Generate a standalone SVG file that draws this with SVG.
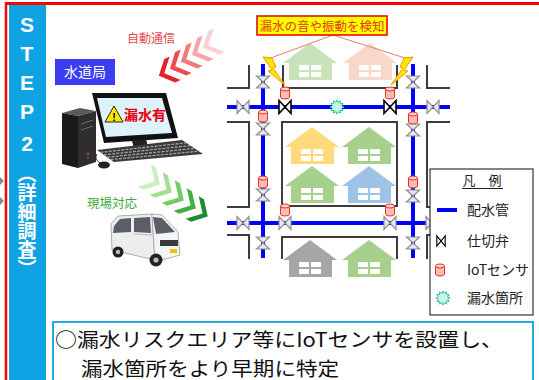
<svg xmlns="http://www.w3.org/2000/svg" xmlns:xlink="http://www.w3.org/1999/xlink" width="539" height="380" viewBox="0 0 539 380">
  <style>
    .jp { font-family: "Noto Sans CJK JP", "Noto Sans", sans-serif; }
    .pipe { stroke: #0000FF; stroke-width: 4; fill: none; }
    .blk { stroke: #3C3C3C; stroke-width: 2; fill: none; }
    .vg { fill: #E6EAF0; stroke: #8E8E8E; stroke-width: 1.2; }
    .vb { fill: #FFFFFF; stroke: #000000; stroke-width: 1.6; }
    .bolt { fill: #FFE600; stroke: #F39800; stroke-width: 1; }
    .callout { stroke: #F07878; stroke-width: 1; fill: none; }
    .leg { font-size: 14px; fill: #222; }
  </style>
  <defs>
    <path id="valveH" d="M-6,-6.5 L-6,6.5 L6,-6.5 L6,6.5 Z"/>
    <path id="valveV" d="M-6.5,-6 L6.5,-6 L-6.5,6 L6.5,6 Z"/>
    <g id="sensor">
      <path d="M-4.5,-4 V4 A4.5,2 0 0 0 4.5,4 V-4" fill="#F7BDB4" stroke="#E8302A" stroke-width="1"/>
      <ellipse cx="0" cy="-4" rx="4.5" ry="2" fill="#FAD3CC" stroke="#E8302A" stroke-width="1"/>
    </g>
    <polygon id="leak" fill="#C8F4E8" stroke="#2CC49A" stroke-width="1"
      points="7,0 4.64,1.24 6.06,3.5 3.39,3.39 3.5,6.06 1.24,4.64 0,7 -1.24,4.64 -3.5,6.06 -3.39,3.39 -6.06,3.5 -4.64,1.24 -7,0 -4.64,-1.24 -6.06,-3.5 -3.39,-3.39 -3.5,-6.06 -1.24,-4.64 0,-7 1.24,-4.64 3.5,-6.06 3.39,-3.39 6.06,-3.5 4.64,-1.24"/>
    <g id="house">
      <path d="M0,20 L27,0 L54,20 L49,20 L49,37 L6,37 L6,20 Z"/>
      <g fill="#FFFFFF">
        <rect x="16" y="22" width="10" height="5"/>
        <rect x="28" y="22" width="10" height="5"/>
        <rect x="16" y="29" width="10" height="5"/>
        <rect x="28" y="29" width="10" height="5"/>
      </g>
    </g>
    <polygon id="chevL" points="-9,0 3,-13 9,-13 -3,0 9,13 3,13"/>
    <polygon id="chevR" points="9,0 -3,-13 -9,-13 3,0 -9,13 -3,13"/>
    <path id="boltShape" d="M0,0 L9,1 L13,10 L10,11 L22,28 L5,14 L9,13 Z"/>
  </defs>

  <rect width="539" height="380" fill="#FFFFFF"/>

  <!-- frame and side band -->
  <g id="frame">
    <line x1="5" y1="3.5" x2="539" y2="3.5" stroke="#FF0000" stroke-width="3"/>
    <line x1="6" y1="2" x2="6" y2="380" stroke="#FF0000" stroke-width="2.5"/>
    <rect x="9" y="5" width="37" height="375" fill="#0FA3E4"/>
    <polygon points="0,177 4,181 0,185" fill="#8A8A8A"/>
    <polygon points="0,197 4,201 0,205" fill="#8A8A8A"/>
    <g font-family="Liberation Sans, Arial, sans-serif" font-weight="bold" font-size="21" fill="#FFFFFF" text-anchor="middle">
      <text x="27" y="32">S</text>
      <text x="27" y="61">T</text>
      <text x="27" y="90">E</text>
      <text x="27" y="119">P</text>
      <text x="27" y="151">2</text>
    </g>
    <text class="jp" x="27" y="164" font-size="19" font-weight="bold" fill="#FFFFFF" writing-mode="vertical-rl">（詳細調査）</text>
  </g>

  <!-- water utility office -->
  <g id="office">
    <rect x="55" y="59" width="60" height="26" fill="#3C3CF0"/>
    <text class="jp" x="85" y="77" font-size="14" fill="#FFFFFF" text-anchor="middle">水道局</text>
  </g>

  <!-- desktop computer -->
  <g id="computer">
    <polygon points="62,113 80,108 96,111 78,116" fill="#5A5A5A"/>
    <polygon points="62,113 78,116 78,168 62,164" fill="#1A1A1A"/>
    <polygon points="78,116 96,111 96,162 78,168" fill="#2E2E2E"/>
    <line x1="81" y1="124" x2="93" y2="120" stroke="#6A6A6A" stroke-width="1"/>
    <line x1="81" y1="130" x2="93" y2="126" stroke="#6A6A6A" stroke-width="1"/>
    <circle cx="88" cy="154" r="1.3" fill="#D03030"/>
    <circle cx="88" cy="158" r="1.1" fill="#3050D0"/>
    <polygon points="92,93 166,93 178,138 104,143" fill="#111111"/>
    <polygon points="97,98 162,98 172,133 106,137" fill="#DDF2FA"/>
    <polygon points="132,141 146,139 148,147 134,148" fill="#222222"/>
    <polygon points="97,150 182,140 203,154 114,162" fill="#3A3A3A"/>
    <g stroke="#A0A0A0" stroke-width="1.3" stroke-dasharray="3 1.2">
      <line x1="100.4" y1="152.4" x2="186.2" y2="142.8"/>
      <line x1="103.8" y1="154.8" x2="190.4" y2="145.6"/>
      <line x1="107.2" y1="157.2" x2="194.6" y2="148.4"/>
      <line x1="110.6" y1="159.6" x2="198.8" y2="151.2"/>
    </g>
    <path d="M100,163 C96,160 95,157 97,154" stroke="#222" stroke-width="1" fill="none"/>
    <ellipse cx="104" cy="165" rx="6" ry="3.5" fill="#222222"/>
    <polygon points="105,122 114,106 123,122" fill="#FFE800" stroke="#222222" stroke-width="1"/>
    <text x="114" y="121" font-family="Liberation Sans, Arial, sans-serif" font-weight="bold" font-size="11" fill="#000" text-anchor="middle">!</text>
    <text class="jp" x="124" y="120" font-size="14" font-weight="bold" fill="#E60012">漏水有</text>
  </g>

  <!-- automatic notification -->
  <g id="notify">
    <text class="jp" x="151" y="43" font-size="12" fill="#E8494F" text-anchor="middle">自動通信</text>
    <use xlink:href="#chevL" transform="translate(211,44) rotate(-25)" fill="#FAD0D2"/>
    <use xlink:href="#chevL" transform="translate(200,51) rotate(-25)" fill="#F6A5A8"/>
    <use xlink:href="#chevL" transform="translate(189,58) rotate(-25)" fill="#F27A7E"/>
    <use xlink:href="#chevL" transform="translate(178,65) rotate(-25)" fill="#EE4A50"/>
    <use xlink:href="#chevL" transform="translate(167,72) rotate(-25)" fill="#E8202A"/>
  </g>

  <!-- on-site response -->
  <g id="response">
    <text class="jp" x="112" y="208" font-size="12.5" fill="#3DAA3D" text-anchor="middle">現場対応</text>
    <use xlink:href="#chevR" transform="translate(152,180) rotate(30)" fill="#C8F0C0"/>
    <use xlink:href="#chevR" transform="translate(164,188) rotate(30)" fill="#A0E090"/>
    <use xlink:href="#chevR" transform="translate(176,196) rotate(30)" fill="#70CC60"/>
    <use xlink:href="#chevR" transform="translate(188,204) rotate(30)" fill="#40B040"/>
    <use xlink:href="#chevR" transform="translate(200,212) rotate(30)" fill="#1E8C30"/>
  </g>

  <!-- service van -->
  <g id="van">
    <polygon points="111,224 118,216 152,214 155,260 112,250" fill="#EDEDED" stroke="#9A9A9A" stroke-width="0.8"/>
    <polygon points="152,214 162,215 178,232 180,255 155,262" fill="#F5F5F5" stroke="#9A9A9A" stroke-width="0.8"/>
    <polygon points="153,217 162,218 175,232 156,234" fill="#5A5F66"/>
    <polygon points="114,226 120,219 131,218 131,232 113,233" fill="#5A5F66"/>
    <polygon points="134,218 150,217 151,233 134,232" fill="#5A5F66"/>
    <line x1="133" y1="234" x2="152" y2="235" stroke="#B0B0B0" stroke-width="0.8"/>
    <rect x="160" y="240" width="18" height="6" fill="#3A3A3A"/>
    <rect x="170" y="249" width="7" height="4" fill="#F2C200"/>
    <circle cx="118" cy="252" r="5.5" fill="#222"/>
    <circle cx="118" cy="252" r="2.2" fill="#BBB"/>
    <circle cx="156" cy="260" r="6.5" fill="#222"/>
    <circle cx="156" cy="260" r="2.6" fill="#BBB"/>
  </g>

  <!-- street blocks -->
  <g id="blocks" class="blk">
    <path d="M227,88 H249 V65"/>
    <path d="M227,122 H249 V207 H227"/>
    <path d="M227,235 H249 V259"/>
    <path d="M283,65 V88 H397 V65"/>
    <rect x="282" y="122" width="115" height="84"/>
    <path d="M282,259 V237 H397 V259"/>
    <path d="M450,88 H427 V65"/>
    <path d="M450,122 H427 V207 H440"/>
    <path d="M440,235 H427 V259"/>
  </g>

  <!-- houses -->
  <g id="houses">
    <use xlink:href="#house" x="283" y="43" fill="#A8D08D" opacity="0.6"/>
    <use xlink:href="#house" x="343" y="43" fill="#F4B9A0" opacity="0.55"/>
    <use xlink:href="#house" x="285" y="127" fill="#FFD97A"/>
    <use xlink:href="#house" x="342" y="127" fill="#A8D08D"/>
    <use xlink:href="#house" x="285" y="166" fill="#A8D08D"/>
    <use xlink:href="#house" x="342" y="166" fill="#9DC3E6"/>
    <use xlink:href="#house" x="283" y="240" fill="#A6A6A6"/>
    <use xlink:href="#house" x="342" y="240" fill="#A8D08D"/>
  </g>

  <!-- water mains -->
  <g id="connectors">
    <line class="pipe" x1="227" y1="107" x2="450" y2="107"/>
    <line class="pipe" x1="227" y1="223" x2="432" y2="223"/>
    <line class="pipe" x1="263" y1="64" x2="263" y2="258"/>
    <line class="pipe" x1="413" y1="64" x2="413" y2="258"/>
    <line class="callout" x1="333" y1="35" x2="268" y2="59"/>
    <line class="callout" x1="333" y1="35" x2="408" y2="59"/>
  </g>

  <!-- gate valves -->
  <g id="valves">
    <use xlink:href="#valveH" x="243" y="107" class="vg"/>
    <use xlink:href="#valveH" x="285" y="107" class="vb"/>
    <use xlink:href="#valveH" x="390" y="107" class="vb"/>
    <use xlink:href="#valveH" x="433" y="107" class="vg"/>
    <use xlink:href="#valveH" x="243" y="223" class="vg"/>
    <use xlink:href="#valveH" x="285" y="223" class="vg"/>
    <use xlink:href="#valveH" x="390" y="223" class="vg"/>
    <use xlink:href="#valveH" x="432" y="223" class="vg"/>
    <use xlink:href="#valveV" x="263" y="82" class="vg"/>
    <use xlink:href="#valveV" x="263" y="129" class="vg"/>
    <use xlink:href="#valveV" x="263" y="195" class="vg"/>
    <use xlink:href="#valveV" x="263" y="243" class="vg"/>
    <use xlink:href="#valveV" x="413" y="82" class="vg"/>
    <use xlink:href="#valveV" x="413" y="130" class="vg"/>
    <use xlink:href="#valveV" x="413" y="196" class="vg"/>
    <use xlink:href="#valveV" x="413" y="243" class="vg"/>
  </g>

  <!-- IoT sensors -->
  <g id="sensors">
    <use xlink:href="#sensor" x="285" y="93"/>
    <use xlink:href="#sensor" x="390" y="93"/>
    <use xlink:href="#sensor" x="263" y="116"/>
    <use xlink:href="#sensor" x="413" y="118"/>
    <use xlink:href="#sensor" x="263" y="182"/>
    <use xlink:href="#sensor" x="413" y="182"/>
    <use xlink:href="#sensor" x="285" y="210"/>
    <use xlink:href="#sensor" x="390" y="210"/>
  </g>

  <!-- leak point -->
  <g id="leak-point">
    <use xlink:href="#leak" x="337" y="107"/>
  </g>

  <!-- detection callout -->
  <g id="detect">
    <use xlink:href="#boltShape" class="bolt" transform="translate(263,57)"/>
    <use xlink:href="#boltShape" class="bolt" transform="translate(413,57) scale(-1,1)"/>
    <rect x="257" y="16" width="130" height="19" fill="#FFFF00" stroke="#E00000" stroke-width="1.5"/>
    <text class="jp" x="322" y="31" font-size="12.5" fill="#E03C14" text-anchor="middle">漏水の音や振動を検知</text>
  </g>

  <!-- legend -->
  <g id="legend">
    <rect x="430" y="169" width="103" height="146" fill="#FFFFFF" stroke="#333333" stroke-width="1.2"/>
    <text class="jp" x="482" y="185" font-size="13" fill="#222" text-anchor="middle">凡　例</text>
    <line x1="462" y1="188.5" x2="503" y2="188.5" stroke="#222" stroke-width="1"/>
    <line class="pipe" x1="437" y1="210" x2="457" y2="210"/>
    <text class="jp leg" x="467" y="215">配水管</text>
    <use xlink:href="#valveH" x="441" y="241" class="vb" transform="translate(441,241) scale(0.7,0.8) translate(-441,-241)"/>
    <text class="jp leg" x="467" y="246">仕切弁</text>
    <use xlink:href="#sensor" x="440" y="270"/>
    <text class="jp leg" x="467" y="275">IoTセンサ</text>
    <use xlink:href="#leak" x="443" y="298"/>
    <text class="jp leg" x="467" y="303">漏水箇所</text>
  </g>

  <!-- summary box -->
  <g id="summary">
    <rect x="53" y="322" width="480" height="62" fill="#FFFFFF" stroke="#29A8E0" stroke-width="2"/>
    <text class="jp" x="55" y="347" font-size="19.5" fill="#111" textLength="448" lengthAdjust="spacingAndGlyphs">○漏水リスクエリア等にIoTセンサを設置し、</text>
    <text class="jp" x="81" y="375.5" font-size="19.5" fill="#111" textLength="258" lengthAdjust="spacingAndGlyphs">漏水箇所をより早期に特定</text>
  </g>
</svg>
